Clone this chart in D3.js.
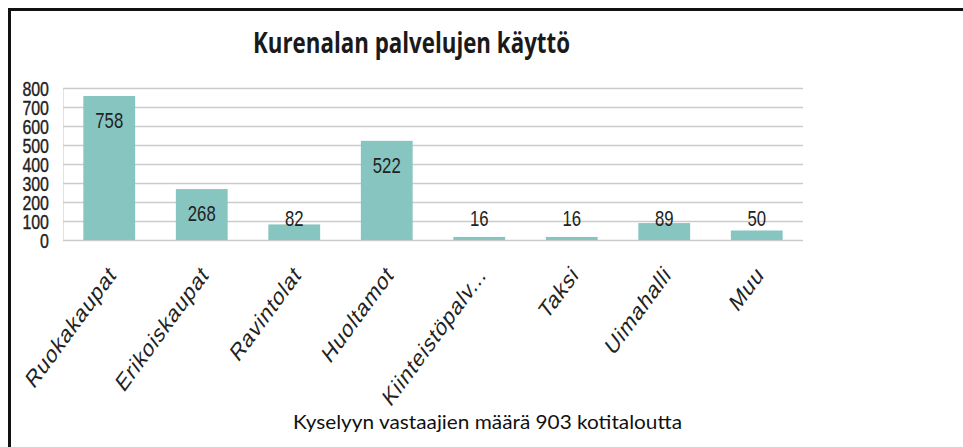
<!DOCTYPE html>
<html>
<head>
<meta charset="utf-8">
<script src="https://cdnjs.cloudflare.com/ajax/libs/d3/7.8.5/d3.min.js"></script>
<style>
  html, body { margin: 0; padding: 0; background: #fff; }
  svg { display: block; }
</style>
</head>
<body>
<div id="chart"></div>
<script>
// data
const categories = ["Ruokakaupat", "Erikoiskaupat", "Ravintolat", "Huoltamot",
    "Kiinteistöpalv...", "Taksi", "Uimahalli", "Muu"];
const values = [758, 268, 82, 522, 16, 16, 89, 50];
const yTicks = [0, 100, 200, 300, 400, 500, 600, 700, 800];
const title = "Kurenalan palvelujen käyttö";
const footnote = "Kyselyyn vastaajien määrä 903 kotitaloutta";

const width = 963, height = 447;
const plot = {left: 63, right: 803, top: 88, bottom: 240};
const squeeze = 0.76; // the source picture is squashed sideways
const barColor = "#86c5c0";
const textColor = "#222";
const chartFont = "'Liberation Sans', Arial, sans-serif";

const svg = d3.select("#chart").append("svg")
    .attr("width", width).attr("height", height);

// frame round the picture (only top and left edges are visible)
svg.append("path")
    .attr("d", `M9.5,${height} V9.5 H${width}`)
    .attr("fill", "none")
    .attr("stroke", "#111")
    .attr("stroke-width", 3);

const x = d3.scaleBand()
    .domain(categories)
    .range([plot.left, plot.right])
    .paddingInner(0.44)
    .paddingOuter(0.22);

const y = d3.scaleLinear()
    .domain([0, 800])
    .range([plot.bottom, plot.top]);

// TITLE
svg.append("text")
    .attr("x", 411.5)
    .attr("y", 53)
    .attr("text-anchor", "middle")
    .attr("textLength", 317)
    .attr("lengthAdjust", "spacingAndGlyphs")
    .style("font-family", "'Open Sans', 'Noto Sans', sans-serif")
    .style("font-weight", "bold")
    .style("font-size", "29px")
    .style("fill", "#1a1a1a")
    .text(title);

// GRID
const grid = svg.append("g")
    .attr("class", "grid")
    .attr("transform", `translate(${plot.left},0)`)
    .call(d3.axisLeft(y).tickValues(yTicks)
        .tickSize(-(plot.right - plot.left)).tickFormat(""));
grid.select(".domain").attr("stroke", "#e2e2e2").attr("stroke-width", 1);
grid.selectAll(".tick line").attr("stroke", "#cbcbcb").attr("stroke-width", 1.6);

// Y LABELS
svg.append("g").selectAll("text")
    .data(yTicks)
    .join("text")
    .attr("transform", d => `translate(49,${y(d)}) scale(${squeeze},1)`)
    .attr("text-anchor", "end")
    .attr("dy", "0.36em")
    .style("font-family", chartFont)
    .style("font-size", "21px")
    .style("fill", textColor)
    .style("stroke", textColor)
    .style("stroke-width", 0.4)
    .text(d => d);

// BARS
svg.append("g").selectAll("rect")
    .data(values)
    .join("rect")
    .attr("x", (d, i) => x(categories[i]))
    .attr("y", d => y(d))
    .attr("width", x.bandwidth())
    .attr("height", d => y(0) - y(d))
    .attr("fill", barColor);

// VALUE LABELS (inside the bar end, or floated above short bars)
svg.append("g").selectAll("text")
    .data(values)
    .join("text")
    .attr("transform", (d, i) => {
        const cx = x(categories[i]) + x.bandwidth() / 2;
        const ly = Math.min(y(d) + 24, plot.bottom - 22);
        return `translate(${cx},${ly}) scale(${squeeze},1)`;
    })
    .attr("text-anchor", "middle")
    .attr("dy", "0.36em")
    .style("font-family", chartFont)
    .style("font-size", "22px")
    .style("fill", textColor)
    .text(d => d);

// CATEGORY LABELS
svg.append("g").selectAll("text")
    .data(categories)
    .join("text")
    .attr("transform", d => {
        const cx = x(d) + x.bandwidth() / 2 + 8;
        return `translate(${cx},276) scale(${squeeze},1) rotate(-46)`;
    })
    .attr("text-anchor", "end")
    .style("font-family", chartFont)
    .style("font-size", "25px")
    .style("letter-spacing", "1px")
    .style("fill", textColor)
    .text(d => d);

// FOOTNOTE
svg.append("text")
    .attr("x", 487.5)
    .attr("y", 429)
    .attr("text-anchor", "middle")
    .attr("textLength", 389)
    .attr("lengthAdjust", "spacingAndGlyphs")
    .style("font-family", "Lato, 'Noto Sans', sans-serif")
    .style("font-size", "19px")
    .style("fill", "#111")
    .text(footnote);
</script>
</body>
</html>
